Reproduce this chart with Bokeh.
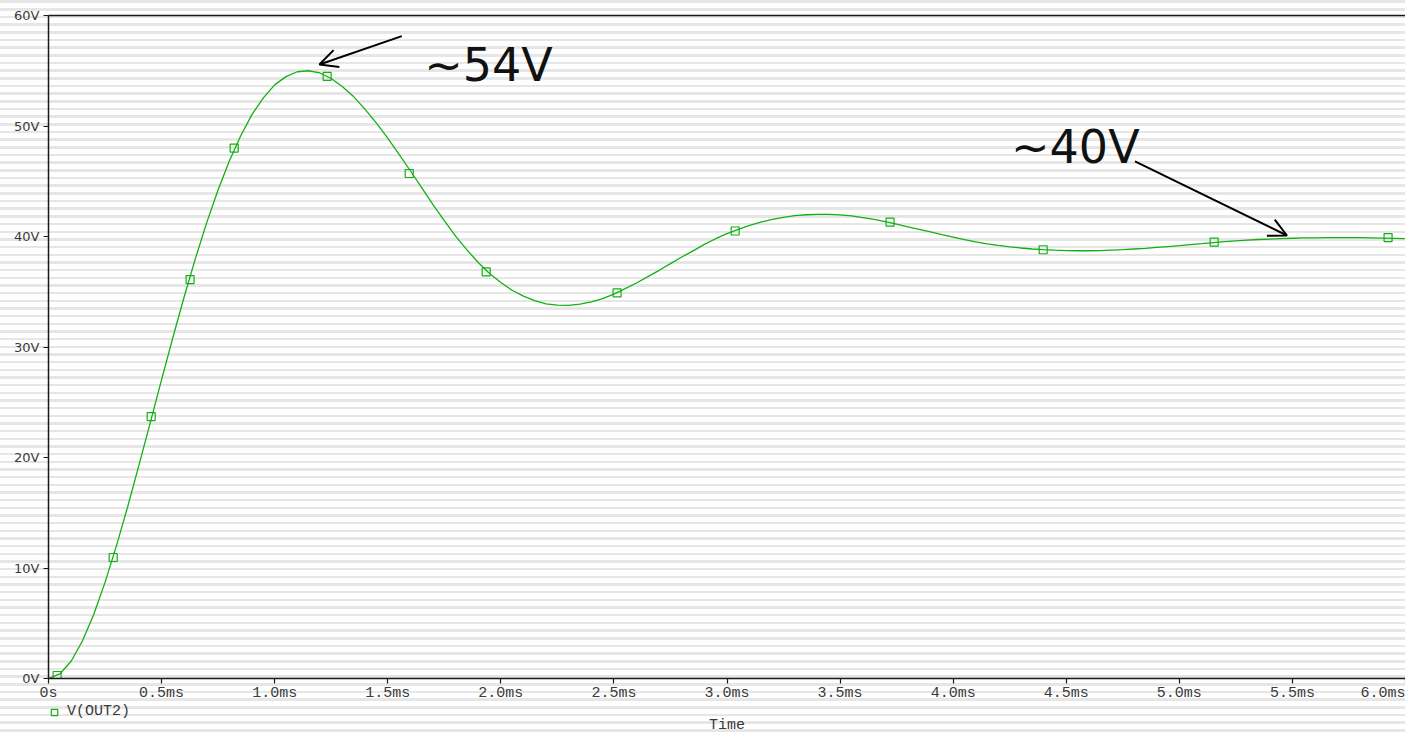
from bokeh.plotting import figure
from bokeh.layouts import column
from bokeh.models import (FixedTicker, LinearAxis, Label, Arrow, OpenHead, Legend,
                          LegendItem, GlobalInlineStyleSheet, Range1d)
from bokeh.embed import file_html
from bokeh.resources import INLINE

# ---------------- data ----------------
time_ms = [0.00, 0.05, 0.10, 0.15, 0.20, 0.25, 0.30, 0.35, 0.40, 0.45,
           0.50, 0.55, 0.60, 0.65, 0.70, 0.75, 0.80, 0.85, 0.90, 0.95,
           1.00, 1.05, 1.10, 1.15, 1.20, 1.25, 1.30, 1.35, 1.40, 1.45,
           1.50, 1.55, 1.60, 1.65, 1.70, 1.75, 1.80, 1.85, 1.90, 1.95,
           2.00, 2.05, 2.10, 2.15, 2.20, 2.25, 2.30, 2.35, 2.40, 2.45,
           2.50, 2.55, 2.60, 2.65, 2.70, 2.75, 2.80, 2.85, 2.90, 2.95,
           3.00, 3.05, 3.10, 3.15, 3.20, 3.25, 3.30, 3.35, 3.40, 3.45,
           3.50, 3.55, 3.60, 3.65, 3.70, 3.75, 3.80, 3.85, 3.90, 3.95,
           4.00, 4.05, 4.10, 4.15, 4.20, 4.25, 4.30, 4.35, 4.40, 4.45,
           4.50, 4.55, 4.60, 4.65, 4.70, 4.75, 4.80, 4.85, 4.90, 4.95,
           5.00, 5.05, 5.10, 5.15, 5.20, 5.25, 5.30, 5.35, 5.40, 5.45,
           5.50, 5.55, 5.60, 5.65, 5.70, 5.75, 5.80, 5.85, 5.90, 5.95, 6.00]
v_out2 = [0.00, 0.41, 1.56, 3.39, 5.80, 8.70, 11.98, 15.54, 19.31, 23.15,
          27.05, 30.86, 34.55, 38.04, 41.28, 44.23, 46.86, 49.12, 51.05, 52.54,
          53.72, 54.47, 54.91, 55.00, 54.80, 54.30, 53.56, 52.64, 51.50, 50.26,
          48.90, 47.44, 45.95, 44.43, 42.89, 41.43, 40.03, 38.79, 37.65, 36.65,
          35.83, 35.14, 34.60, 34.19, 33.91, 33.79, 33.77, 33.88, 34.08, 34.38,
          34.79, 35.28, 35.79, 36.37, 36.94, 37.54, 38.14, 38.70, 39.29, 39.80,
          40.26, 40.64, 41.01, 41.30, 41.54, 41.73, 41.88, 41.97, 42.01, 42.01,
          41.96, 41.86, 41.71, 41.54, 41.35, 41.12, 40.88, 40.65, 40.41, 40.17,
          39.95, 39.72, 39.52, 39.34, 39.20, 39.07, 38.96, 38.87, 38.81, 38.76,
          38.72, 38.71, 38.71, 38.73, 38.77, 38.81, 38.87, 38.93, 39.01, 39.09,
          39.17, 39.27, 39.35, 39.45, 39.54, 39.61, 39.67, 39.73, 39.77, 39.81,
          39.84, 39.87, 39.88, 39.89, 39.90, 39.89, 39.89, 39.87, 39.85, 39.83, 39.81]

marker_time_ms = [0.038, 0.286, 0.454, 0.626, 0.821, 1.232, 1.595, 1.935,
                  2.514, 3.036, 3.721, 4.398, 5.154, 5.923]
marker_v = [0.27, 10.95, 23.7, 36.1, 48.0, 54.5, 45.7, 36.8,
            34.9, 40.5, 41.3, 38.8, 39.5, 39.9]

x_ticks = [0.0, 0.5, 1.0, 1.5, 2.0, 2.5, 3.0, 3.5, 4.0, 4.5, 5.0, 5.5, 6.0]
x_tick_labels = ["0s", "0.5ms", "1.0ms", "1.5ms", "2.0ms", "2.5ms", "3.0ms",
                 "3.5ms", "4.0ms", "4.5ms", "5.0ms", "5.5ms", "6.0ms"]
y_ticks = [0, 10, 20, 30, 40, 50, 60]
y_tick_labels = ["0V", "10V", "20V", "30V", "40V", "50V", "60V"]

series_name = "V(OUT2)"
x_title = "Time"
peak_note = "~54V"
final_note = "~40V"

# ---------------- style ----------------
GREEN = "#12b012"
AXIS = "#1a1a1a"
TXT = "#3a3a3a"
MONO = "Liberation Mono"

stripes = GlobalInlineStyleSheet(css="""
html, body { margin: 0 !important; padding: 0; overflow: hidden;
  background: repeating-linear-gradient(to bottom,
     #ffffff 0px, #ffffff 0.4px, #e6e6e6 0.4px, #e6e6e6 2.9px,
     #ffffff 2.9px, #ffffff 7.67px); }
""")

W = 1405
p = figure(width=W, height=704, x_range=Range1d(0, 6.0), y_range=Range1d(0, 60),
           output_backend="svg", toolbar_location=None,
           min_border_left=48, min_border_right=0, min_border_top=15, min_border_bottom=26,
           background_fill_color=None, border_fill_color=None, outline_line_color=None)
p.stylesheets = [stripes]
p.grid.visible = False

# axes
xa = p.xaxis[0]
xa.ticker = FixedTicker(ticks=x_ticks)
xa.major_label_overrides = dict(zip(x_ticks, x_tick_labels))
ya = p.yaxis[0]
ya.ticker = FixedTicker(ticks=y_ticks)
ya.major_label_overrides = dict(zip(y_ticks, y_tick_labels))

for ax in (xa, ya):
    ax.axis_line_color = AXIS
    ax.axis_line_width = 1.5
    ax.major_tick_line_color = AXIS
    ax.major_tick_line_width = 1.2
    ax.major_tick_out = 5
    ax.major_tick_in = 0
    ax.minor_tick_line_color = None
    ax.major_label_text_color = TXT
xa.major_label_standoff = 1
ya.major_label_standoff = 4
xa.major_label_text_font = MONO
xa.major_label_text_font_size = "15px"
ya.major_label_text_font = "DejaVu Sans"
ya.major_label_text_font_size = "13px"

top = LinearAxis(ticker=FixedTicker(ticks=[]), axis_line_color=AXIS, axis_line_width=1.5,
                 major_tick_line_color=None, minor_tick_line_color=None,
                 major_label_text_font_size="0px")
p.add_layout(top, "above")

# data
p.line(time_ms, v_out2, line_color=GREEN, line_width=1.3)
p.scatter(marker_time_ms, marker_v, marker="square", size=8,
          fill_color=None, line_color=GREEN, line_width=1.2)

# annotations
p.add_layout(Arrow(end=OpenHead(size=18, line_width=2, line_color="black"),
                   x_start=1.562, y_start=58.13, x_end=1.198, y_end=55.57,
                   line_width=2, line_color="black"))
p.add_layout(Arrow(end=OpenHead(size=18, line_width=2, line_color="black"),
                   x_start=4.804, y_start=46.79, x_end=5.476, y_end=40.09,
                   line_width=2, line_color="black"))
p.add_layout(Label(x=1.661, y=55.55, text=peak_note, text_font="DejaVu Sans",
                   text_font_size="46px", text_color="#111111", text_baseline="alphabetic"))
p.add_layout(Label(x=4.256, y=48.1, text=final_note, text_font="DejaVu Sans",
                   text_font_size="46px", text_color="#111111", text_baseline="alphabetic"))

# ---------------- strip under the axis: legend and axis title ----------------
# (its frame is aligned with the main frame by the column layout; the series is
#  drawn outside its ranges so only the legend swatch shows)
p2 = figure(width=W, height=30, x_range=Range1d(0, 1), y_range=Range1d(-2, -1),
            output_backend="svg", toolbar_location=None,
            x_axis_location=None, y_axis_location=None,
            min_border_left=0, min_border_right=0, min_border_top=0, min_border_bottom=0,
            background_fill_color=None, border_fill_color=None, outline_line_color=None)
p2.grid.visible = False
legend_glyph = p2.scatter(marker_time_ms, marker_v, marker="square", size=8,
                          fill_color=None, line_color=GREEN, line_width=1.2)
legend = Legend(items=[LegendItem(label=series_name, renderers=[legend_glyph])],
                location=(-2, 14), orientation="horizontal",
                padding=0, spacing=0, margin=0, glyph_width=16, glyph_height=16,
                label_height=16, label_standoff=5, border_line_color=None,
                background_fill_alpha=0, label_text_font=MONO,
                label_text_font_size="15px", label_text_color=TXT)
p2.add_layout(legend, "center")
p2.add_layout(Label(x=678.5, y=9, x_units="screen", y_units="screen", text=x_title,
                    text_align="center", text_baseline="middle", text_font=MONO,
                    text_font_size="15px", text_color=TXT))

layout = column(p, p2, spacing=0)
open("out.html", "w").write(file_html(layout, INLINE))
